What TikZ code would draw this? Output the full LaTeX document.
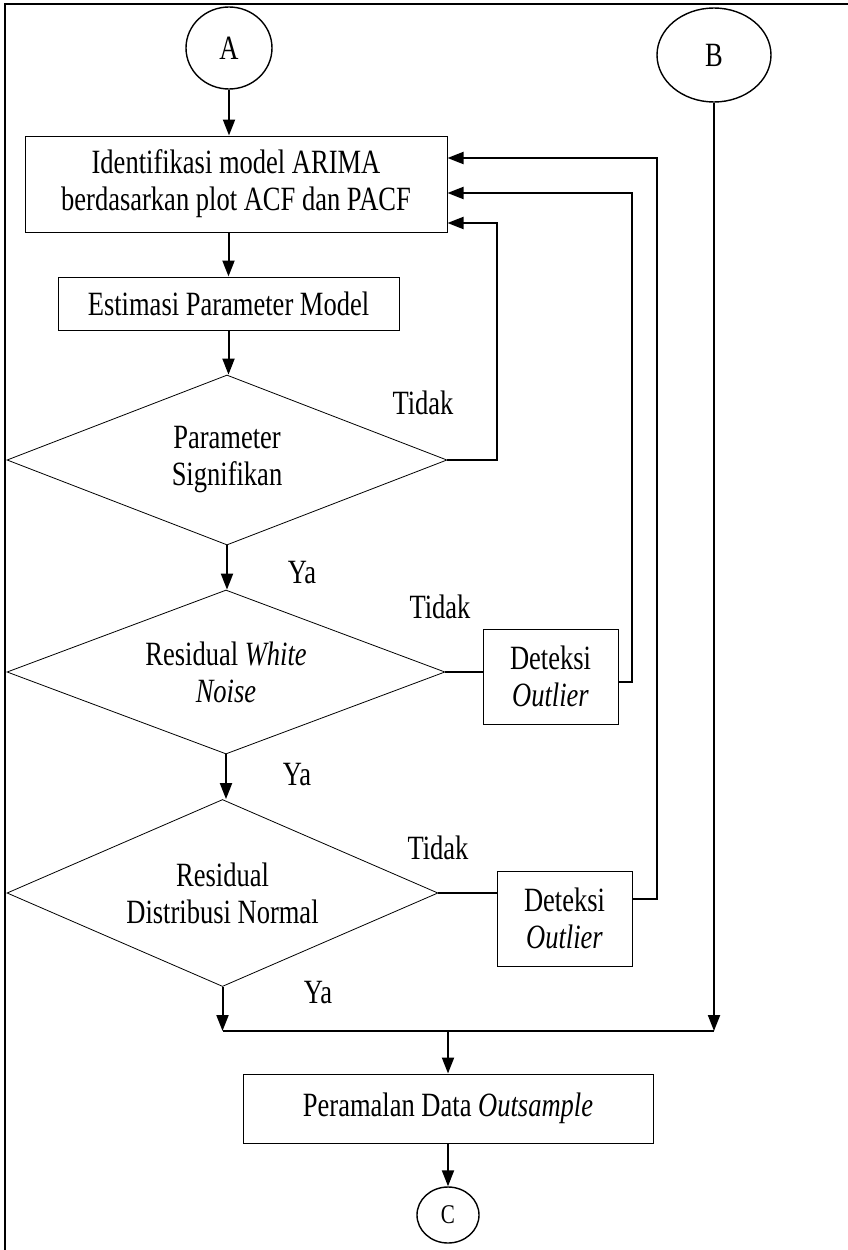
\documentclass[tikz,border=0pt]{standalone}
\usepackage{fontspec}
\setmainfont{Liberation Serif}[FakeStretch=0.78]
\usetikzlibrary{shapes.geometric,arrows.meta,positioning,calc}

\begin{document}
\begin{tikzpicture}[
        x=1pt, y=-1pt,
        every node/.style={font=\fontsize{34}{37}\selectfont, align=center, inner sep=0pt},
        blk/.style={draw, line width=1pt},
        dec/.style={draw, diamond, aspect=2.4, line width=0.8pt},
        term/.style={draw, ellipse, line width=1.4pt},
        ln/.style={line width=2pt},
        arr/.style={ln, -{Triangle[length=16pt,width=12pt]}},
    ]
    \useasboundingbox (0,0) rectangle (848,1250);
    \draw[line width=2pt] (5,1250) -- (5,4) -- (848,4);

    \node[term, minimum width=86pt, minimum height=82pt] (A) at (229,48) {A};
    \node[term, minimum width=114pt, minimum height=94pt] (B) at (714,55) {B};
    \node[blk, minimum width=422pt, minimum height=96pt] (ident) at (236,184) {Identifikasi model ARIMA\\berdasarkan plot ACF dan PACF};
    \node[blk, minimum width=341pt, minimum height=53pt] (estim) at (228.5,303.5) {Estimasi Parameter Model};
    \node[dec, minimum width=440pt, minimum height=170pt] (sig) at (227,460) {Parameter\\Signifikan};
    \node[dec, minimum width=438pt, minimum height=164pt] (wn) at (226,672) {Residual \textit{White}\\\textit{Noise}};
    \node[dec, minimum width=431pt, minimum height=187pt] (norm) at (222.5,893) {Residual\\Distribusi Normal};
    \node[blk, minimum width=135pt, minimum height=95pt] (out1) at (550.5,676.5) {Deteksi\\\textit{Outlier}};
    \node[blk, minimum width=135pt, minimum height=95pt] (out2) at (564.5,918.5) {Deteksi\\\textit{Outlier}};
    \node[blk, minimum width=410pt, minimum height=69pt] (ramal) at (448,1108.5) {Peramalan Data \textit{Outsample}};
    \node[term, minimum width=62pt, minimum height=56pt, font=\fontsize{27}{30}\selectfont] (C) at (448,1215) {C};

    \node (t1) at (423,403) {Tidak};
    \node (y1) at (302,573) {Ya};
    \node (t2) at (440,607) {Tidak};
    \node (y2) at (297,775) {Ya};
    \node (t3) at (438,848) {Tidak};
    \node (y3) at (318,993) {Ya};

    \coordinate (fb1) at (497,223);
    \coordinate (fb2) at (632,193);
    \coordinate (fb3) at (657,158);
    \coordinate (jr) at (714,1031);
    \coordinate (jl) at (norm.south |- jr);

    \draw[arr] (A) -- (A |- ident.north);
    \draw[arr] (estim |- ident.south) -- (estim);
    \draw[arr] (estim.south) -- (estim.south |- sig.north);
    \draw[arr] (sig.south) -- (sig.south |- wn.north);
    \draw[arr] (wn.south) -- (wn.south |- norm.north);
    \draw[arr] (norm.south) -- (jl);
    \draw[arr] (B) -- (jr);
    \draw[ln] (jl) -- (jr);
    \draw[arr] (ramal.north |- jl) -- (ramal);
    \draw[arr] (ramal) -- (C);

    \draw[arr] (sig.east) -| (fb1) -- (fb1 -| ident.east);
    \draw[ln] (wn.east) -- (wn.east -| out1.west);
    \draw[arr] ([yshift=-5pt]out1.east) -| (fb2) -- (fb2 -| ident.east);
    \draw[ln] (norm.east) -- (norm.east -| out2.west);
    \draw[arr] ([yshift=20pt]out2.east) -| (fb3) -- (fb3 -| ident.east);
\end{tikzpicture}
\end{document}
